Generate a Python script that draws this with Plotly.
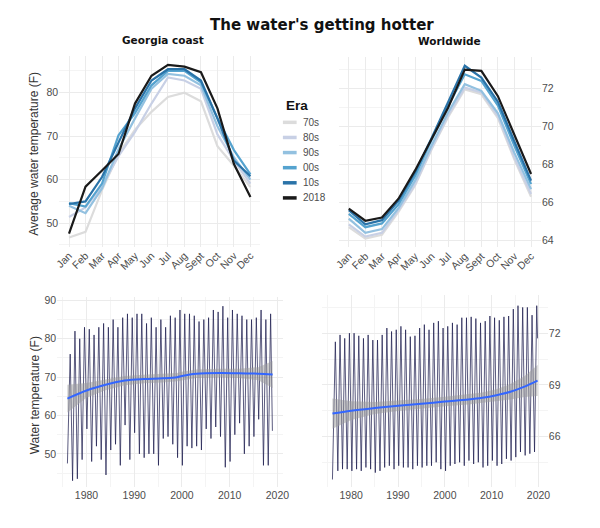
import plotly.graph_objects as go

# ---------------- data ----------------
months = ["Jan", "Feb", "Mar", "Apr", "May", "Jun", "Jul", "Aug", "Sept", "Oct", "Nov", "Dec"]
eras = ["70s", "80s", "90s", "00s", "10s", "2018"]
era_colors = ["#dcdcdc", "#c8d0e5", "#93c1e0", "#55a3cf", "#2a73a8", "#1a1a1a"]

georgia_70s = [46.7, 48.0, 57.6, 65.9, 71.5, 75.6, 79.0, 80.0, 78.0, 67.7, 63.2, 58.3]
georgia_80s = [51.4, 53.6, 58.5, 65.4, 71.0, 77.5, 83.5, 82.8, 80.9, 70.4, 64.4, 59.1]
georgia_90s = [54.0, 52.3, 58.0, 67.0, 74.1, 80.9, 84.3, 83.9, 81.7, 72.3, 65.1, 60.0]
georgia_00s = [54.6, 53.8, 59.1, 70.2, 75.3, 81.7, 85.0, 85.0, 82.4, 74.1, 66.8, 61.2]
georgia_10s = [54.4, 55.0, 60.6, 68.5, 76.4, 82.8, 85.4, 85.4, 82.8, 74.1, 64.4, 60.8]
georgia_2018 = [47.6, 58.4, 62.1, 65.9, 77.5, 83.9, 86.4, 86.0, 84.7, 76.4, 63.6, 56.0]

world_70s = [64.7, 64.1, 64.3, 65.5, 66.9, 68.8, 70.5, 71.96, 71.7, 70.45, 68.25, 66.3]
world_80s = [64.85, 64.2, 64.4, 65.6, 66.95, 68.85, 70.6, 72.05, 71.8, 70.55, 68.35, 66.45]
world_90s = [65.15, 64.4, 64.6, 65.7, 67.15, 69.0, 70.75, 72.23, 71.88, 70.7, 68.6, 66.7]
world_00s = [65.4, 64.7, 64.9, 65.9, 67.4, 69.3, 71.1, 72.75, 72.4, 71.1, 68.97, 66.97]
world_10s = [65.6, 64.85, 65.07, 66.1, 67.6, 69.4, 71.3, 73.2, 72.58, 71.3, 69.2, 67.15]
world_2018 = [65.68, 65.04, 65.21, 66.2, 67.69, 69.35, 71.0, 73.0, 72.93, 71.6, 69.5, 67.5]

# Georgia monthly series: readings of the yearly summer peaks and winter troughs
georgia_start = 47.5          # Jan 1976
georgia_peaks = [76, 82, 80, 83, 82.5, 81, 83, 84, 83, 85, 83, 85.5, 86.5, 85.5, 86.5,
                 86.5, 84, 85.5, 83, 85, 83, 86, 85.5, 87.5, 86.5, 86.5, 86, 84.5, 85,
                 85.5, 87.5, 87, 88.5, 85.5, 87.5, 86.5, 86, 85, 85, 85.5, 87.5, 85, 86.5]  # 1976-2018
georgia_troughs = [43, 43.5, 48.5, 56.5, 48, 52, 48.5, 44.5, 51, 52.5, 47, 57.5, 48.5,
                   55.5, 50, 49, 50, 50, 47, 54, 54.5, 52.5, 49, 47, 52, 51.5, 52, 51,
                   56.5, 54, 57, 54.5, 46.5, 48, 55, 58, 50, 52, 54.5, 59, 47, 47]  # 1977-2018
georgia_end = 56.0            # Dec 2018

world_start = 63.5            # Jan 1976
world_peaks = [71.5, 71.9, 71.7, 72.0, 72.0, 71.85, 71.7, 71.9, 71.6, 71.6, 71.9, 72.3,
               72.1, 72.2, 72.4, 72.2, 71.8, 71.85, 72.3, 72.5, 72.2, 72.6, 72.7, 72.3,
               72.4, 72.6, 72.5, 72.9, 72.9, 72.95, 72.85, 72.6, 72.7, 73.0, 72.9, 72.75,
               72.95, 73.0, 73.4, 73.6, 73.5, 73.5, 73.05, 73.6]  # 1976-2019
world_troughs = [64.0, 64.1, 64.1, 64.0, 64.1, 64.0, 64.2, 64.1, 63.9, 64.0, 64.2, 64.3,
                 64.1, 64.3, 64.2, 64.2, 64.1, 64.3, 64.2, 64.3, 64.3, 64.5, 64.1, 64.0,
                 64.3, 64.4, 64.5, 64.3, 64.6, 64.4, 64.5, 64.2, 64.3, 64.6, 64.3, 64.4,
                 64.7, 64.6, 64.8, 65.1, 64.9, 65.0, 65.1]  # 1977-2019
world_end = 71.7              # Oct 2019

# smoothed trend lines and confidence bands
georgia_smooth_years = [1976, 1980, 1984, 1988, 1992, 1996, 1999, 2000, 2003, 2008, 2012, 2016, 2019]
georgia_smooth = [64.4, 66.5, 68.0, 69.1, 69.5, 69.7, 70.0, 70.3, 70.9, 71.1, 71.0, 70.9, 70.7]
georgia_lower = [60.8, 64.6, 66.6, 67.9, 68.4, 68.6, 68.9, 69.2, 69.8, 70.0, 69.8, 69.2, 67.2]
georgia_upper = [68.0, 68.5, 69.4, 70.3, 70.6, 70.8, 71.1, 71.4, 72.0, 72.2, 72.2, 72.6, 74.2]

world_smooth_years = [1976, 1980, 1985, 1990, 1995, 2000, 2005, 2008, 2011, 2014, 2017, 2019.8]
world_smooth = [67.33, 67.5, 67.65, 67.78, 67.9, 68.03, 68.15, 68.25, 68.4, 68.6, 68.9, 69.25]
world_lower = [66.45, 66.95, 67.3, 67.48, 67.62, 67.75, 67.86, 67.95, 68.05, 68.15, 68.3, 68.35]
world_upper = [68.2, 68.05, 68.0, 68.08, 68.18, 68.31, 68.44, 68.55, 68.75, 69.05, 69.5, 70.15]

# ---------------- build series ----------------
def series(start, peaks, troughs, end, first_year, end_x, peak_frac, trough_frac):
    xs, ys = [first_year], [start]
    for i, p in enumerate(peaks):
        y = first_year + i
        if i > 0:
            xs.append(y + trough_frac)
            ys.append(troughs[i - 1])
        xs.append(y + peak_frac)
        ys.append(p)
    xs.append(end_x)
    ys.append(end)
    return xs, ys

gx, gy = series(georgia_start, georgia_peaks, georgia_troughs, georgia_end,
                1976, 2018.95, 0.58, 0.08)
wx, wy = series(world_start, world_peaks, world_troughs, world_end, 1976, 2019.8, 0.62, 0.15)

fig = go.Figure()

georgia_all = [georgia_70s, georgia_80s, georgia_90s, georgia_00s, georgia_10s, georgia_2018]
world_all = [world_70s, world_80s, world_90s, world_00s, world_10s, world_2018]
for name, col, gvals in zip(eras, era_colors, georgia_all):
    fig.add_trace(go.Scatter(x=months, y=gvals, mode="lines", name=name,
                             line=dict(color=col, width=2.2), xaxis="x", yaxis="y"))
for name, col, wvals in zip(eras, era_colors, world_all):
    fig.add_trace(go.Scatter(x=months, y=wvals, mode="lines", name=name,
                             line=dict(color=col, width=2.2), xaxis="x2", yaxis="y2"))

navy = "rgba(28,28,78,0.72)"
ribbon = "rgba(153,153,153,0.5)"
smooth_col = "#3366FF"

fig.add_trace(go.Scatter(x=gx, y=gy, mode="lines", line=dict(color=navy, width=1.0),
                         xaxis="x3", yaxis="y3"))
fig.add_trace(go.Scatter(x=georgia_smooth_years + georgia_smooth_years[::-1],
                         y=georgia_upper + georgia_lower[::-1], fill="toself",
                         fillcolor=ribbon, line=dict(width=0), mode="lines",
                         xaxis="x3", yaxis="y3"))
fig.add_trace(go.Scatter(x=georgia_smooth_years, y=georgia_smooth, mode="lines",
                         line=dict(color=smooth_col, width=2, shape="spline"),
                         xaxis="x3", yaxis="y3"))

fig.add_trace(go.Scatter(x=wx, y=wy, mode="lines", line=dict(color=navy, width=1.0),
                         xaxis="x4", yaxis="y4"))
fig.add_trace(go.Scatter(x=world_smooth_years + world_smooth_years[::-1],
                         y=world_upper + world_lower[::-1], fill="toself",
                         fillcolor=ribbon, line=dict(width=0), mode="lines",
                         xaxis="x4", yaxis="y4"))
fig.add_trace(go.Scatter(x=world_smooth_years, y=world_smooth, mode="lines",
                         line=dict(color=smooth_col, width=2, shape="spline"),
                         xaxis="x4", yaxis="y4"))

# page has an 8px body margin: work in window pixels and shift
OFF = 8
W, H = 600 - OFF, 528 - OFF
def fx(x):
    return (x - OFF) / W
def fy(y):
    return 1 - (y - OFF) / H
def px(x0, x1):
    return [fx(x0), fx(x1)]
def py(top, bottom):
    return [fy(bottom), fy(top)]

grid = "#ebebeb"
minor_grid = "#f4f4f4"
tickfont = dict(family="Liberation Sans, Arial, sans-serif", size=10.5, color="#4d4d4d")

def axis(domain, rng=None, **kw):
    d = dict(domain=domain, showgrid=True, gridcolor=grid, gridwidth=0.8, zeroline=False,
             showline=False, ticks="", tickfont=tickfont)
    if rng is not None:
        d["range"] = rng
    d.update(kw)
    return d

fig.update_layout(
    width=W, height=H, margin=dict(l=0, r=0, t=0, b=0),
    paper_bgcolor="white", plot_bgcolor="white", showlegend=False,
    xaxis=axis(px(55, 260), [-0.6, 11.6], anchor="y", type="category", tickangle=-45),
    yaxis=axis(py(53, 245), [44.6, 88.5], anchor="x", tickvals=[50, 60, 70, 80],
               minor=dict(tickvals=[45, 55, 65, 75, 85], showgrid=True, gridcolor=minor_grid)),
    xaxis2=axis(px(340, 546), [-0.6, 11.6], anchor="y2", type="category", tickangle=-45),
    yaxis2=axis(py(54.5, 245.5), [63.65, 73.65], anchor="x2", side="right",
                tickvals=[64, 66, 68, 70, 72],
                minor=dict(tickvals=[65, 67, 69, 71, 73], showgrid=True, gridcolor=minor_grid)),
    xaxis3=axis(px(53, 283), [1973.85, 2021.15], anchor="y3",
                tickvals=[1980, 1990, 2000, 2010, 2020],
                minor=dict(tickvals=[1975, 1985, 1995, 2005, 2015], showgrid=True, gridcolor=minor_grid)),
    yaxis3=axis(py(296, 487), [41.3, 90.8], anchor="x3", tickvals=[50, 60, 70, 80, 90],
                minor=dict(tickvals=[45, 55, 65, 75, 85], showgrid=True, gridcolor=minor_grid)),
    xaxis4=axis(px(323, 553), [1973.8, 2022.0], anchor="y4",
                tickvals=[1980, 1990, 2000, 2010, 2020],
                minor=dict(tickvals=[1975, 1985, 1995, 2005, 2015], showgrid=True, gridcolor=minor_grid)),
    yaxis4=axis(py(294, 487), [63.05, 74.2], anchor="x4", side="right",
                tickvals=[66, 69, 72],
                minor=dict(tickvals=[64.5, 67.5, 70.5, 73.5], showgrid=True, gridcolor=minor_grid)),
)

ann = []
ann.append(dict(text="<b>The water's getting hotter</b>", x=fx(323), y=fy(22),
                xref="paper", yref="paper", showarrow=False, xanchor="center", yanchor="middle",
                font=dict(family="DejaVu Sans", size=15, color="#111")))
ann.append(dict(text="<b>Georgia coast</b>", x=fx(161), y=fy(37), xref="paper", yref="paper",
                showarrow=False, xanchor="center", yanchor="middle",
                font=dict(family="DejaVu Sans", size=10.5, color="#111")))
ann.append(dict(text="<b>Worldwide</b>", x=fx(453), y=fy(38.5), xref="paper", yref="paper",
                showarrow=False, xanchor="center", yanchor="middle",
                font=dict(family="DejaVu Sans", size=10.5, color="#111")))
axis_title_font = dict(family="Liberation Sans, Arial, sans-serif", size=12, color="#333")
ann.append(dict(text="Average water temperature (F)", x=fx(30), y=fy(152), xref="paper",
                yref="paper", showarrow=False, textangle=-90, xanchor="center", yanchor="middle",
                font=axis_title_font))
ann.append(dict(text="Water temperature (F)", x=fx(30), y=fy(395), xref="paper",
                yref="paper", showarrow=False, textangle=-90, xanchor="center", yanchor="middle",
                font=axis_title_font))

# legend (manual, ggplot-like)
ann.append(dict(text="<b>Era</b>", x=fx(284), y=fy(103), xref="paper", yref="paper",
                showarrow=False, xanchor="left", yanchor="middle",
                font=dict(family="Liberation Sans, Arial, sans-serif", size=13.5, color="#111")))
shapes = []
row_y = [120, 135.2, 150.4, 165.6, 180.8, 196]
for name, col, ry in zip(eras, era_colors, row_y):
    shapes.append(dict(type="line", xref="paper", yref="paper", x0=fx(283), x1=fx(297),
                       y0=fy(ry), y1=fy(ry), line=dict(color=col, width=3.5)))
    ann.append(dict(text=name, x=fx(301), y=fy(ry), xref="paper", yref="paper",
                    showarrow=False, xanchor="left", yanchor="middle",
                    font=dict(family="Liberation Sans, Arial, sans-serif", size=10, color="#4d4d4d")))

fig.update_layout(annotations=ann, shapes=shapes)
fig.write_html("out.html")
